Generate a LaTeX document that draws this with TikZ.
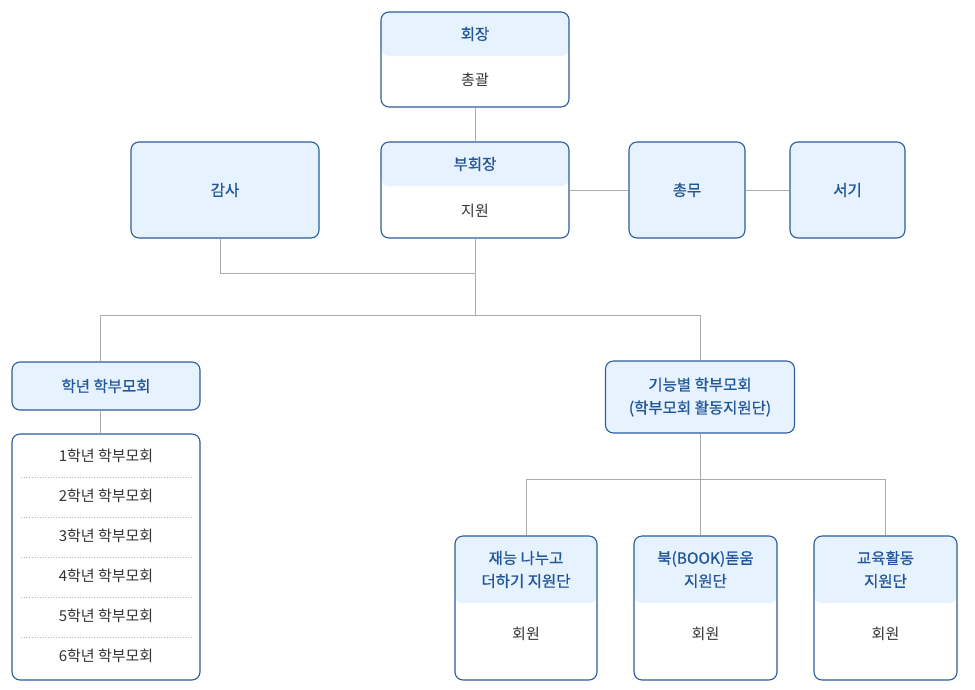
\documentclass[tikz,border=0pt]{standalone}
\usepackage{fontspec}
\setmainfont{Noto Sans CJK KR}
\newfontfamily\titlefont[FakeBold=0.8]{Noto Sans CJK KR}
\usetikzlibrary{calc,positioning}
\definecolor{boxline}{HTML}{2B5C9B}
\definecolor{boxfill}{HTML}{E6F2FE}
\definecolor{titlecol}{HTML}{22569A}
\definecolor{bodycol}{HTML}{333333}
\definecolor{linkcol}{HTML}{ABABAB}
\definecolor{sepcol}{HTML}{B5B5B5}

\begin{document}
\begin{tikzpicture}[x=1pt,y=-1pt,
    box/.style={draw=boxline, line width=1.1pt, rounded corners=8pt, inner sep=0pt},
    fullbox/.style={box, fill=boxfill},
    splitbox/.style={box, fill=white,
      path picture={\fill[boxfill] (path picture bounding box.north west) rectangle ([yshift=-#1pt]path picture bounding box.north east);}},
    title/.style={font=\titlefont\fontsize{15.5}{23}\selectfont, text=titlecol, align=center},
    body/.style={font=\fontsize{15}{20}\selectfont, text=bodycol},
    link/.style={draw=linkcol, line width=0.9pt},
    sep/.style={draw=sepcol, dotted, line width=0.7pt}]
  \useasboundingbox (0,0) rectangle (975,689);

  % top rows
  \node[splitbox=44, minimum width=188pt, minimum height=95pt] (hoejang) at (475,59.5) {};
  \node[title] (hoejangT) at (475,34) {회장};
  \node[body] (hoejangB) at (475,80) {총괄};

  \node[splitbox=44, minimum width=188pt, minimum height=96pt] (buhoejang) at (475,190) {};
  \node[title] (buhoejangT) at (475,164) {부회장};
  \node[body] (buhoejangB) at (475,211) {지원};

  \node[fullbox, title, minimum width=188pt, minimum height=96pt] (gamsa) at (225,190) {감사};
  \node[fullbox, title, minimum width=116pt, minimum height=96pt] (chongmu) at (687,190) {총무};
  \node[fullbox, title, minimum width=115pt, minimum height=96pt] (seogi) at (847.5,190) {서기};

  % grade side
  \node[fullbox, title, minimum width=188pt, minimum height=48pt] (haknyeon) at (106,386) {학년 학부모회};
  \node[box, fill=white, minimum width=188pt, minimum height=246pt] (gradelist) at (106,557) {};
  \foreach \i in {1,...,6}
    \node[body] (grade\i) at (106,{416+40*\i}) {{\i}학년 학부모회};
  \foreach \i in {1,...,5}
    \draw[sep] (21,{437+40*\i}) -- (192,{437+40*\i});

  % function side
  \node[fullbox, title, minimum width=189pt, minimum height=72pt] (gineung) at (700,397) {기능별 학부모회\\(학부모회 활동지원단)};

  \node[splitbox=67, minimum width=142pt, minimum height=144pt] (jaeneung) at (526,608) {};
  \node[title] (jaeneungT) at (526,569.5) {재능 나누고\\더하기 지원단};
  \node[body] (jaeneungB) at (526,634) {회원};

  \node[splitbox=67, minimum width=143pt, minimum height=144pt] (book) at (705.5,608) {};
  \node[title] (bookT) at (705.5,569.5) {북(BOOK)돋움\\지원단};
  \node[body] (bookB) at (705.5,634) {회원};

  \node[splitbox=67, minimum width=143pt, minimum height=144pt] (gyoyuk) at (885.5,608) {};
  \node[title] (gyoyukT) at (885.5,569.5) {교육활동\\지원단};
  \node[body] (gyoyukB) at (885.5,634) {회원};

  % connectors
  \draw[link] (hoejang) -- (buhoejang);
  \draw[link] (buhoejang) -- (chongmu);
  \draw[link] (chongmu) -- (seogi);
  \coordinate (split1) at ($(buhoejang.south)+(0,35)$);
  \coordinate (split2) at ($(buhoejang.south)+(0,77)$);
  \draw[link] ([xshift=-5pt]gamsa.south) |- (split1);
  \draw[link] (buhoejang.south) -- (split2);
  \draw[link] ([xshift=-6pt]haknyeon.north) |- (split2) -| (gineung.north);
  \draw[link] ([xshift=-6pt]haknyeon.south) -- ([xshift=-6pt]gradelist.north);
  \coordinate (split3) at ($(gineung.south)+(0,46)$);
  \draw[link] (gineung.south) -- (split3);
  \draw[link] (jaeneung.north) |- (split3) -| (gyoyuk.north);
  \draw[link] (split3) -- (split3 |- book.north);
\end{tikzpicture}
\end{document}
